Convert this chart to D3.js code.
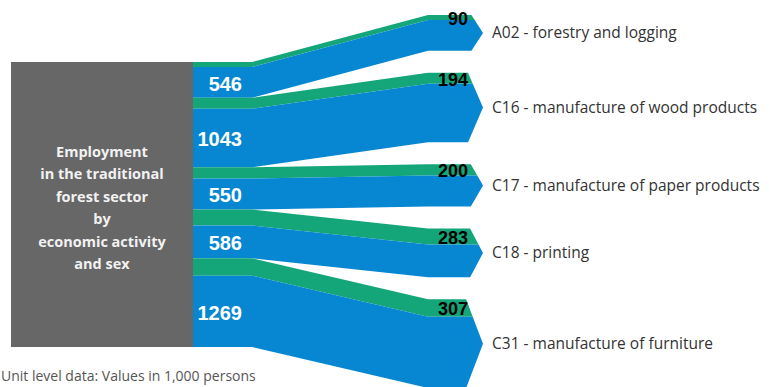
<!DOCTYPE html>
<html>
<head>
<meta charset="utf-8">
<script src="https://cdn.jsdelivr.net/npm/d3@7"></script>
<style>
    body { margin: 0; background: #fff; }
    svg { display: block; }
</style>
</head>
<body>
<div id="flowChart"></div>
<script>
// data (values in 1,000 persons)
const categories = ["A02 - forestry and logging", "C16 - manufacture of wood products",
    "C17 - manufacture of paper products", "C18 - printing", "C31 - manufacture of furniture"];
const greenValues = [90, 194, 200, 283, 307];
const blueValues = [546, 1043, 550, 586, 1269];
const boxLines = ["Employment", "in the traditional", "forest sector", "by", "economic activity", "and sex"];
const footnote = "Unit level data: Values in 1,000 persons";

const W = 770, H = 387;
const GREEN = "#14a679", BLUE = "#0787d1", GREY = "#676767";

function draw_flow_chart() {
    var svg = d3.select("#flowChart").append("svg")
        .attr("width", W)
        .attr("height", H);

    // left stack
    var boxX0 = 11, boxX1 = 193;
    var xa = 252, xb = 428, tipX = 483;
    var rightTop = 15, rightGap = 22;

    var total = d3.sum(greenValues) + d3.sum(blueValues);
    var y = d3.scaleLinear().domain([0, total]).range([62, 347]);
    var len = v => y(v) - y(0);

    // build node positions
    var nodes = [];
    var acc = 0, rTop = rightTop;
    categories.forEach((c, i) => {
        var g = greenValues[i], b = blueValues[i];
        var n = {
            name: c, g: g, b: b,
            lTop: y(acc), lMid: y(acc + g), lBot: y(acc + g + b),
            rTop: rTop, rMid: rTop + len(g), rBot: rTop + len(g + b)
        };
        n.center = (n.rTop + n.rBot) / 2;
        n.half = (n.rBot - n.rTop) / 2;
        n.dx = 8 + n.half * 0.2;
        n.corner = tipX - n.dx;
        nodes.push(n);
        acc += g + b;
        rTop = n.rBot + rightGap;
    });

    // x on upper chevron edge for a given y
    function edgeX(n, yy) {
        return n.corner + n.dx * (yy - n.rTop) / n.half;
    }

    var line = d3.line();

    // gray box
    svg.append("rect")
        .attr("x", boxX0)
        .attr("y", y(0))
        .attr("width", boxX1 - boxX0)
        .attr("height", y(total) - y(0))
        .attr("fill", GREY);

    var flows = svg.append("g").attr("class", "flows");

    nodes.forEach(n => {
        // green band
        flows.append("path")
            .attr("fill", GREEN)
            .attr("d", line([
                [boxX1, n.lTop], [xa, n.lTop], [xb, n.rTop], [n.corner, n.rTop],
                [edgeX(n, n.rMid), n.rMid], [xb, n.rMid], [xa, n.lMid], [boxX1, n.lMid]
            ]) + "Z");

        // blue band
        flows.append("path")
            .attr("fill", BLUE)
            .attr("d", line([
                [boxX1, n.lMid], [xa, n.lMid], [xb, n.rMid], [edgeX(n, n.rMid), n.rMid],
                [tipX, n.center], [n.corner, n.rBot], [xb, n.rBot], [xa, n.lBot], [boxX1, n.lBot]
            ]) + "Z");
    });

    // blue values (white)
    svg.append("g").selectAll("text")
        .data(nodes).enter().append("text")
        .attr("x", 242)
        .attr("y", d => (d.lMid + d.lBot) / 2 + 1)
        .attr("dy", "0.36em")
        .attr("text-anchor", "end")
        .attr("fill", "#fff")
        .style("font", "bold 20px 'Liberation Sans', Arial, sans-serif")
        .text(d => d.b);

    // green values (black)
    svg.append("g").selectAll("text")
        .data(nodes).enter().append("text")
        .attr("x", 468)
        .attr("y", d => (d.rTop + d.rMid) / 2 + 1)
        .attr("dy", "0.36em")
        .attr("text-anchor", "end")
        .attr("fill", "#000")
        .style("font", "bold 18px 'Liberation Sans', Arial, sans-serif")
        .text(d => d.g);

    // category labels
    svg.append("g").selectAll("text")
        .data(nodes).enter().append("text")
        .attr("x", tipX + 9)
        .attr("y", d => d.center)
        .attr("dy", "0.35em")
        .attr("fill", "#333")
        .style("font", "15.5px 'Open Sans', sans-serif")
        .text(d => d.name);

    // box title
    svg.append("text")
        .attr("x", (boxX0 + boxX1) / 2)
        .attr("y", 152)
        .attr("text-anchor", "middle")
        .attr("fill", "#f2f2f2")
        .style("font", "bold 14.5px 'Open Sans', sans-serif")
        .selectAll("tspan")
        .data(boxLines).enter().append("tspan")
        .attr("x", (boxX0 + boxX1) / 2)
        .attr("dy", (d, i) => i === 0 ? "0.35em" : "22.4")
        .text(d => d);

    // footnote
    svg.append("text")
        .attr("x", 1)
        .attr("y", 381)
        .attr("fill", "#555")
        .style("font", "14px 'Open Sans', sans-serif")
        .text(footnote);
}

draw_flow_chart();
</script>
</body>
</html>
